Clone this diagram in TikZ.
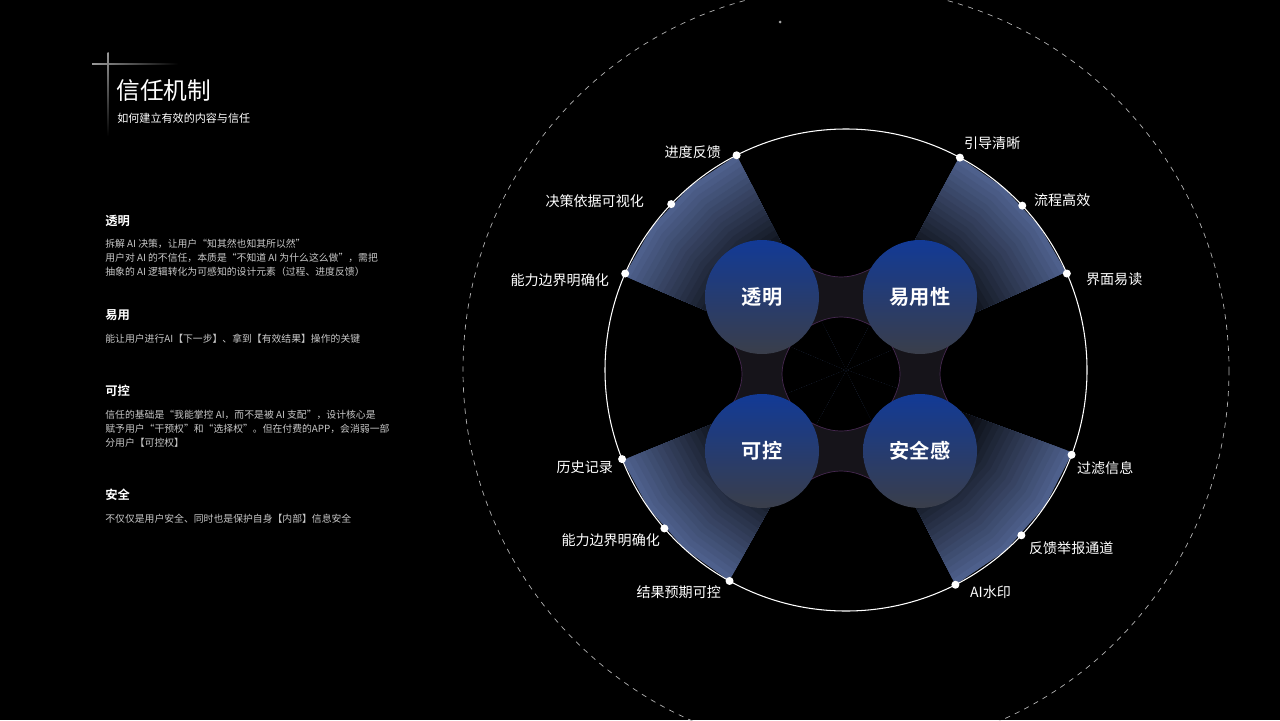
\documentclass[tikz,border=0pt]{standalone}
\usepackage{fontspec}
\setmainfont{Noto Sans CJK SC}[BoldFont={Noto Sans CJK SC Bold}]
\usetikzlibrary{calc}
\definecolor{fanblue}{RGB}{78,96,140}
\definecolor{sphtop}{RGB}{18,58,150}
\definecolor{sphbot}{RGB}{58,62,74}
\definecolor{txtgray}{RGB}{200,200,200}
\definecolor{bridge}{RGB}{22,20,26}
\definecolor{bridgeedge}{RGB}{70,40,80}
\tikzset{
  sph/.style={circle, minimum size=114*0.02cm, inner sep=0pt, top color=sphtop, bottom color=sphbot, draw=none, text=white, font=\bfseries\fontsize{11.5}{12}\selectfont},
  dot/.style={circle, fill=white, inner sep=0pt, minimum size=8*0.02cm},
  lbl/.style={text=white, font=\fontsize{8}{9}\selectfont, inner sep=1pt},
  head/.style={text=white, font=\bfseries\fontsize{7}{8}\selectfont, anchor=west, inner sep=0pt},
  body/.style={text=txtgray, font=\fontsize{5.6}{7.9}\selectfont, anchor=north west, inner sep=0pt, align=left},
  brg/.style={fill=bridge, draw=bridgeedge, line width=0.4pt}
}
\begin{document}
\begin{tikzpicture}[x=0.02cm,y=-0.02cm]
\fill[black] (0,0) rectangle (1280,720);
\useasboundingbox (0,0) rectangle (1280,720);
\coordinate (c) at (846,370);
% dashed outer circle
\draw[gray!60, dashed, line width=0.4pt] (c) circle (383);
\fill[gray!70] (780,22) circle (1.5);
% fans (stepped gradient)
\foreach \a/\b in {119/158, 20/63, 203/243, 298/336}{
  \foreach \i in {0,...,20}{
    \pgfmathsetmacro{\rr}{241-6*\i}
    \pgfmathsetmacro{\pc}{100-5*\i}
    \fill[fanblue!\pc!black] (c) -- ($(c)+(\a:\rr)$) -- ($(c)+({(2*\a+\b)/3}:\rr)$) -- ($(c)+({(\a+2*\b)/3}:\rr)$) -- ($(c)+(\b:\rr)$) -- cycle;
  }
}
% main circle
\draw[white, line width=0.6pt] (c) circle (241);
% bridges
\draw[brg] (800,262) .. controls (830,282) and (852,282) .. (882,262) -- (882,332) .. controls (852,312) and (830,312) .. (800,332) -- cycle;
\draw[brg] (800,416) .. controls (830,436) and (852,436) .. (882,416) -- (882,486) .. controls (852,466) and (830,466) .. (800,486) -- cycle;
\draw[brg] (727,335) .. controls (747,365) and (747,383) .. (727,413) -- (797,413) .. controls (777,383) and (777,365) .. (797,335) -- cycle;
\draw[brg] (885,335) .. controls (905,365) and (905,383) .. (885,413) -- (955,413) .. controls (935,383) and (935,365) .. (955,335) -- cycle;
% spheres
\node[sph] (s1) at (762,297) {透明};
\node[sph] (s2) at (920,297) {易用性};
\node[sph] (s3) at (762,451) {可控};
\node[sph] (s4) at (920,451) {安全感};
% dots
\foreach \ang/\nm in {118.9/l1, 138.9/l2, 158.3/l3, 203.6/l4, 223.5/l5, 243/l6, 63/r1, 43.3/r2, 20.6/r3, -23.6/r4, -43/r5, -61.8/r6}{
  \node[dot] (d\nm) at ($(c)+(\ang:241)$) {};
}
\node[lbl, anchor=east] (tl1) at (723,152) {进度反馈};
\node[lbl, anchor=east] (tl2) at (646,201) {决策依据可视化};
\node[lbl, anchor=east] (tl3) at (611,280) {能力边界明确化};
\node[lbl, anchor=east] (tl4) at (615,467) {历史记录};
\node[lbl, anchor=east] (tl5) at (662,540) {能力边界明确化};
\node[lbl, anchor=east] (tl6) at (723,592) {结果预期可控};
\node[lbl, anchor=west] (tr1) at (962,143) {引导清晰};
\node[lbl, anchor=west] (tr2) at (1032,200) {流程高效};
\node[lbl, anchor=west] (tr3) at (1084,279) {界面易读};
\node[lbl, anchor=west] (tr4) at (1075,468) {过滤信息};
\node[lbl, anchor=west] (tr5) at (1027,548) {反馈举报通道};
\node[lbl, anchor=west] (tr6) at (968,592) {AI水印};
% title decoration
\shade[left color=gray!80, right color=black] (92,63.5) rectangle (178,64.5);
\shade[top color=gray!80, bottom color=black] (107.5,52) rectangle (108.5,136);
\node[text=white, font=\fontsize{13.5}{15}\selectfont, anchor=west, inner sep=0pt] (title) at (116,91) {信任机制};
\node[text=white, font=\fontsize{6.3}{7}\selectfont, anchor=west, inner sep=0pt] (sub) at (117,118) {如何建立有效的内容与信任};
% left text
\node[head] (h1) at (105,221) {透明};
\node[body] (b1) at (105,239) {拆解 AI 决策，让用户“知其然也知其所以然”\\用户对 AI 的不信任，本质是“不知道 AI 为什么这么做”，需把\\抽象的 AI 逻辑转化为可感知的设计元素（过程、进度反馈）};
\node[head] (h2) at (105,315) {易用};
\node[body] (b2) at (105,334) {能让用户进行AI【下一步】、拿到【有效结果】操作的关键};
\node[head] (h3) at (105,391) {可控};
\node[body] (b3) at (105,410) {信任的基础是“我能掌控 AI，而不是被 AI 支配”，设计核心是\\赋予用户“干预权”和“选择权”。但在付费的APP，会消弱一部\\分用户【可控权】};
\node[head] (h4) at (105,495) {安全};
\node[body] (b4) at (105,514) {不仅仅是用户安全、同时也是保护自身【内部】信息安全};
\end{tikzpicture}
\end{document}
